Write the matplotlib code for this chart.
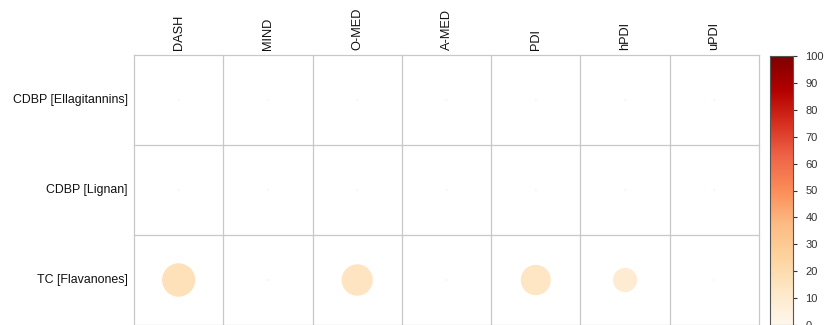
import numpy as np
import matplotlib.pyplot as plt
from matplotlib.patches import Circle
from matplotlib import colors

plt.rcParams['font.family'] = ['Liberation Sans', 'DejaVu Sans']

diets = ["DASH", "MIND", "O-MED", "A-MED", "PDI", "hPDI", "uPDI"]
compounds = ["CDBP [Ellagitannins]", "CDBP [Lignan]", "TC [Flavanones]"]

# percentage values, one list per row
ellagitannins = [0.1, 0.1, 0.1, 0.1, 0.1, 0.1, 0.1]
lignan = [0.1, 0.1, 0.1, 0.1, 0.1, 0.1, 0.1]
flavanones = [17.0, 0.1, 15.0, 0.1, 14.0, 9.0, 0.1]
values = np.array([ellagitannins, lignan, flavanones])

cbar_ticks = [0, 10, 20, 30, 40, 50, 60, 70, 80, 90, 100]

W, H = 827, 325
fig = plt.figure(figsize=(W / 100, H / 100), dpi=100)
fig.patch.set_facecolor("white")

cmap = plt.get_cmap("OrRd")
norm = colors.Normalize(vmin=0, vmax=100)

# main grid axes
x0, x1, y0, y1 = 134, 759, 55, 325
ax = fig.add_axes([x0 / W, 1 - y1 / H, (x1 - x0) / W, (y1 - y0) / H])
ncol, nrow = len(diets), len(compounds)
ax.set_xlim(0, ncol)
ax.set_ylim(nrow, 0)
grid_col = "#c8c8c8"
for i in range(ncol + 1):
    ax.plot([i, i], [0, nrow], color=grid_col, lw=0.9, clip_on=False)
for j in range(nrow + 1):
    ax.plot([0, ncol], [j, j], color=grid_col, lw=0.9, clip_on=False)

for r in range(nrow):
    for c in range(ncol):
        v = values[r, c]
        rad = 0.45 * np.sqrt(v / 100.0)
        ax.add_patch(Circle((c + 0.5, r + 0.5), rad, facecolor=cmap(norm(v)),
                            edgecolor="none"))

ax.set_xticks([])
ax.set_yticks([])
for s in ax.spines.values():
    s.set_visible(False)

for c, name in enumerate(diets):
    ax.text(c + 0.5, -0.06, name, rotation=90, ha="center", va="bottom",
            fontsize=9.2, color="#111111")
for r, name in enumerate(compounds):
    ax.text(-0.07, r + 0.5, name, ha="right", va="center",
            fontsize=8.9, color="#111111")

# colour bar
cx0, cx1, cy0, cy1 = 770, 793, 56, 325
cax = fig.add_axes([cx0 / W, 1 - cy1 / H, (cx1 - cx0) / W, (cy1 - cy0) / H])
grad = np.linspace(0, 100, 256).reshape(-1, 1)
cax.imshow(grad, aspect="auto", cmap=cmap, norm=norm, origin="lower",
           extent=[0, 1, 0, 100])
cax.set_xlim(0, 1)
cax.set_ylim(0, 100)
cax.set_xticks([])
cax.yaxis.tick_right()
cax.set_yticks(cbar_ticks)
cax.set_yticklabels([str(t) for t in cbar_ticks])
cax.tick_params(axis="y", length=3, width=0.8, colors="#333333",
                labelsize=8, pad=6)
for s in cax.spines.values():
    s.set_color("#555555")
    s.set_linewidth(0.8)

fig.savefig("out.png", dpi=100)
